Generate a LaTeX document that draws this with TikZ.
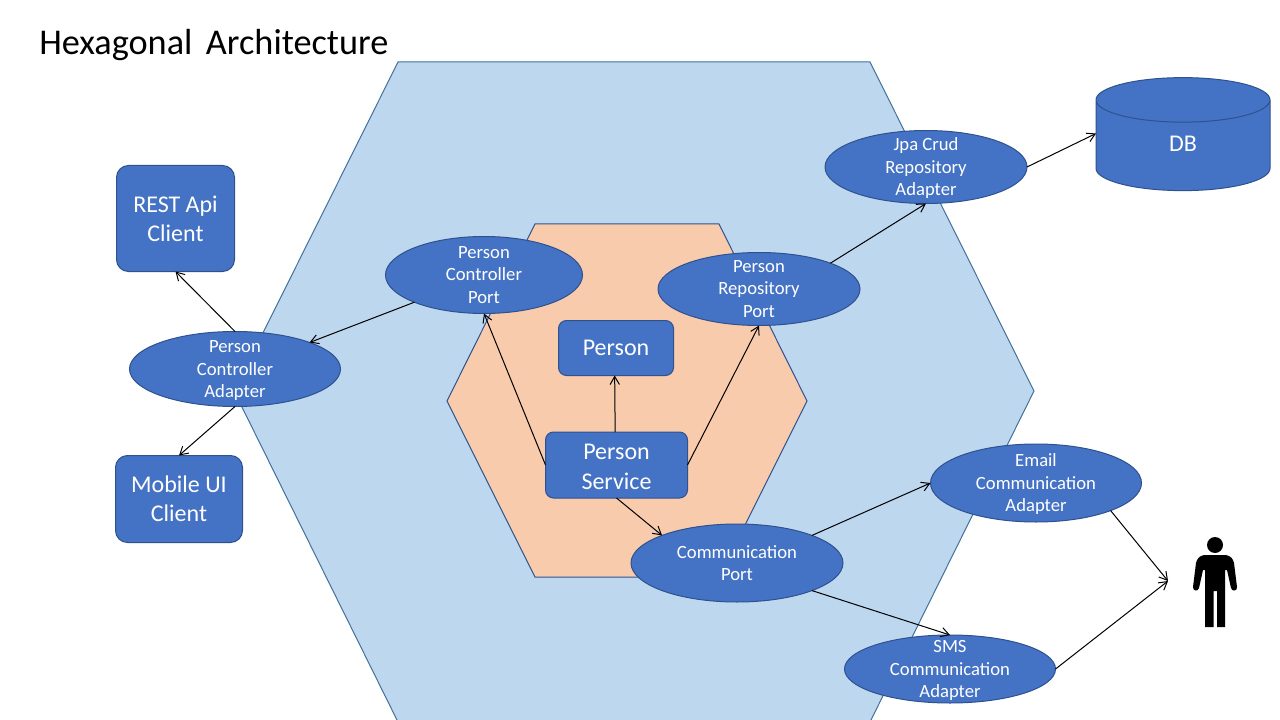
\documentclass[tikz,border=0pt]{standalone}
\usepackage{fontspec}
\setmainfont{Carlito}
\usetikzlibrary{arrows.meta,shapes.geometric}
\definecolor{blueA}{HTML}{4472C4}
\definecolor{blueB}{HTML}{2F528F}
\definecolor{hexA}{HTML}{BDD7EE}
\definecolor{hexB}{HTML}{41719C}
\definecolor{peach}{HTML}{F8CBAD}
\newcommand{\lowr}{\rule{0pt}{11.5pt}}
\tikzset{
  x=0.75pt,y=-0.75pt,
  shapeblue/.style={fill=blueA,draw=blueB,line width=0.75pt,text=white,align=center,inner sep=0pt,outer sep=0pt},
  oval/.style={shapeblue,ellipse,inner sep=-14pt,font=\fontsize{14}{17}\selectfont},
  rbox/.style={shapeblue,rectangle,rounded corners=9pt,font=\fontsize{18}{22}\selectfont},
  link/.style={draw=black,line width=0.75pt,-{Straight Barb[length=6pt,width=7pt,line width=0.75pt]},shorten <=0pt,shorten >=0pt},
}
\begin{document}
\begin{tikzpicture}
\useasboundingbox (0,0) rectangle (1280,720);
\fill[white] (0,0) rectangle (1280,720);
% hexagons
\begin{scope}
\clip (0,0) rectangle (1280,720);
\draw[fill=hexA,draw=hexB,line width=0.75pt] (398,62) -- (870,62) -- (1034,391) -- (870,722) -- (398,722) -- (234,391) -- cycle;
\end{scope}
\draw[fill=peach,draw=blueB,line width=0.75pt] (535,224) -- (719,224) -- (807,401) -- (719,577) -- (535,577) -- (447,401) -- cycle;
% title
\node[anchor=west,inner sep=0pt,font=\fontsize{27.2}{33}\selectfont] (title) at (39,45) {Hexagonal\hspace{4pt} Architecture};
% boxes
\node[rbox,minimum width=118pt*0.75,minimum height=106pt*0.75] (rest) at (175.5,218.5) {REST Api\\Client};
\node[rbox,minimum width=127pt*0.75,minimum height=87pt*0.75] (mobile) at (179,499) {Mobile UI\\Client};
\node[rbox,rounded corners=6pt,minimum width=115pt*0.75,minimum height=55pt*0.75] (person) at (616,348) {Person};
\node[rbox,rounded corners=6pt,minimum width=142pt*0.75,minimum height=66pt*0.75] (service) at (616.5,465) {\rule{0pt}{14.5pt}Person\\Service};
% ovals
\node[oval,minimum width=211pt*0.75,minimum height=75pt*0.75] (pca) at (235,369) {\lowr Person\\Controller\\Adapter};
\node[oval,minimum width=197pt*0.75,minimum height=77pt*0.75] (pcp) at (484,275) {Person\\Controller\\Port};
\node[oval,minimum width=202pt*0.75,minimum height=73pt*0.75] (prp) at (759,289) {Person\\Repository\\Port};
\node[oval,minimum width=202pt*0.75,minimum height=73pt*0.75] (jpa) at (926,167) {\lowr Jpa Crud\\Repository\\Adapter};
\node[oval,minimum width=212pt*0.75,minimum height=78pt*0.75] (comm) at (737,563) {Communication\\Port};
\node[oval,minimum width=211pt*0.75,minimum height=78pt*0.75] (email) at (1036,483) {\lowr Email\\Communication\\Adapter};
\node[oval,minimum width=211pt*0.75,minimum height=68pt*0.75] (sms) at (950,669) {\lowr SMS\\Communication\\Adapter};
% database
\node[shapeblue,cylinder,shape border rotate=90,aspect=1.6,minimum width=174pt*0.75,minimum height=113pt*0.75,font=\fontsize{18}{22}\selectfont] (db) at (1183,145.5) {\raisebox{2.2pt}{DB}};
% person figure
\coordinate (user) at (1168,581);
\fill[black] (1215,545) circle[radius=8];
\fill[black] (1204,555) -- (1226,555) .. controls (1231,556) and (1233,559) .. (1234,563)
  -- (1237,587) .. controls (1237.5,591) and (1232,592) .. (1231,588) -- (1227,570)
  -- (1225,570) -- (1225,627) -- (1217,627) -- (1217,591) -- (1213.5,591) -- (1213.5,627) -- (1205,627) -- (1205,570)
  -- (1203,570) -- (1199,588) .. controls (1198,592) and (1192.5,591) .. (1193,587) -- (1196,563)
  .. controls (1197,559) and (1199,556) .. (1204,555) -- cycle;
% connectors
\draw[link] (pca.north) -- (rest.south);
\draw[link] (pca.south) -- (mobile.north);
\draw[link] (pcp.south west) -- (pca.north east);
\draw[link] (service.west) -- (pcp.south);
\draw[link] (service.east) -- (prp.south);
\draw[link] ([xshift=-1pt]service.north) -- ([xshift=-1pt]person.south);
\draw[link] (service.south) -- (comm.north west);
\draw[link] (prp.north east) -- (jpa.south);
\draw[link] (jpa.east) -- ([yshift=9pt]db.west);
\draw[link] (comm.north east) -- (email.west);
\draw[link] (comm.south east) -- (sms.north);
\draw[link] (email.south east) -- (user);
\draw[link] (sms.east) -- (user);
\end{tikzpicture}
\end{document}
